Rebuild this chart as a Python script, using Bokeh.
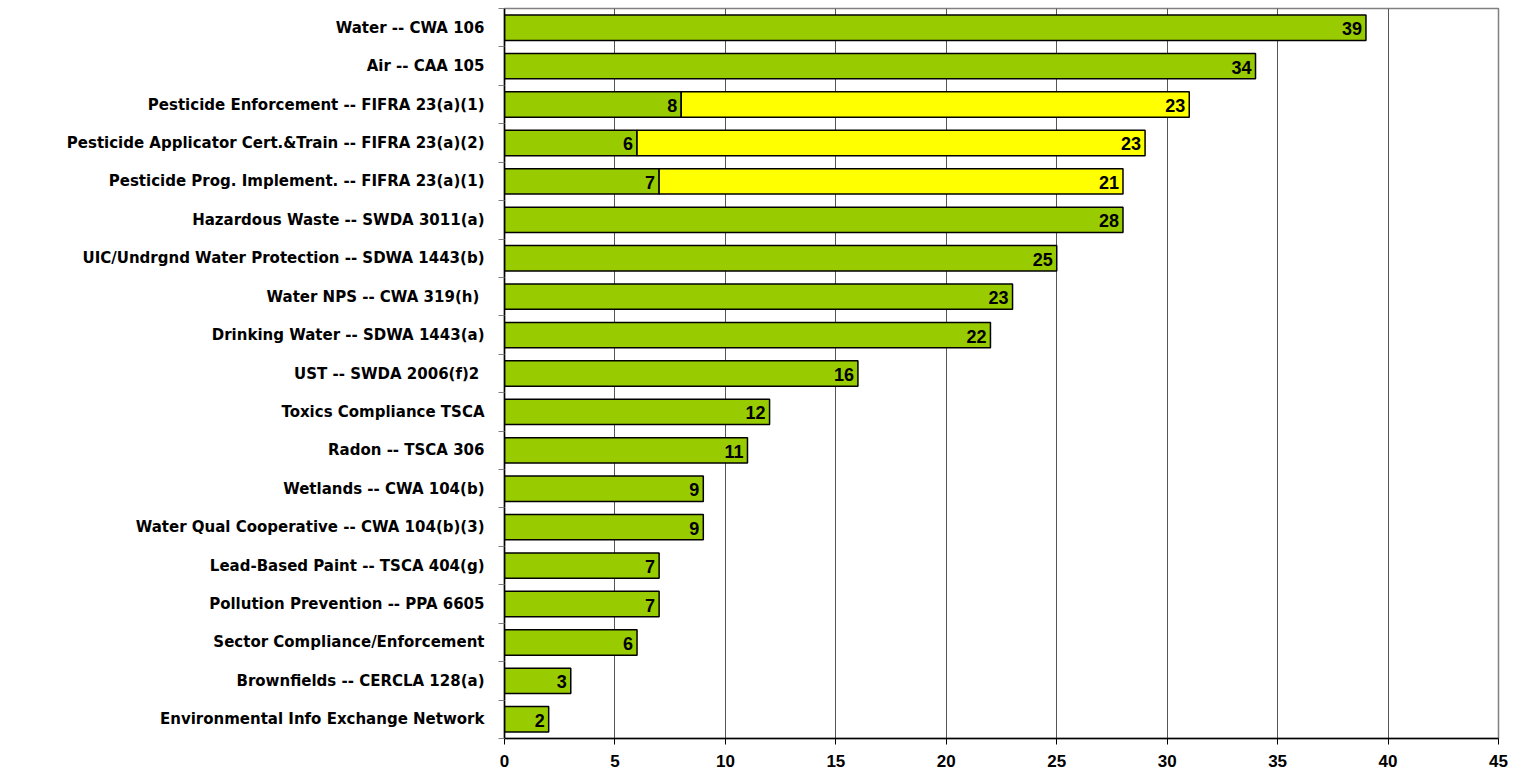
from bokeh.plotting import figure
from bokeh.models import ColumnDataSource, FixedTicker, Range1d
from bokeh.core.properties import value
from bokeh.embed import file_html
from bokeh.resources import INLINE

categories = [
    "Water -- CWA 106",
    "Air -- CAA 105",
    "Pesticide Enforcement -- FIFRA 23(a)(1)",
    "Pesticide Applicator Cert.&Train -- FIFRA 23(a)(2)",
    "Pesticide Prog. Implement. -- FIFRA 23(a)(1)",
    "Hazardous Waste -- SWDA 3011(a)",
    "UIC/Undrgnd Water Protection -- SDWA 1443(b)",
    "Water NPS  -- CWA 319(h)",
    "Drinking Water -- SDWA 1443(a)",
    "UST  -- SWDA 2006(f)2",
    "Toxics Compliance TSCA",
    "Radon -- TSCA 306",
    "Wetlands -- CWA 104(b)",
    "Water Qual Cooperative -- CWA 104(b)(3)",
    "Lead-Based Paint -- TSCA 404(g)",
    "Pollution Prevention -- PPA 6605",
    "Sector Compliance/Enforcement",
    "Brownfields -- CERCLA 128(a)",
    "Environmental Info Exchange Network",
]
green_values = [39, 34, 8, 6, 7, 28, 25, 23, 22, 16, 12, 11, 9, 9, 7, 7, 6, 3, 2]
yellow_values = [0, 0, 23, 23, 21, 0, 0, 0, 0, 0, 0, 0, 0, 0, 0, 0, 0, 0, 0]
x_ticks = [0, 5, 10, 15, 20, 25, 30, 35, 40, 45]

n = len(categories)
ypos = [n - 1 - i for i in range(n)]
totals = [g + y for g, y in zip(green_values, yellow_values)]

green_src = ColumnDataSource(dict(y=ypos, left=[0] * n, right=green_values,
                                  label=[str(v) for v in green_values]))
yi = [i for i in range(n) if yellow_values[i] > 0]
yellow_src = ColumnDataSource(dict(y=[ypos[i] for i in yi],
                                   left=[green_values[i] for i in yi],
                                   right=[totals[i] for i in yi],
                                   label=[str(yellow_values[i]) for i in yi]))

p = figure(width=1512, height=772, output_backend="svg", toolbar_location=None,
           x_range=Range1d(0, 45), y_range=Range1d(-0.5, n - 0.5),
           min_border_left=504, min_border_right=14, min_border_top=8,
           min_border_bottom=34)

p.hbar(y="y", left="left", right="right", height=0.66, source=green_src,
       fill_color="#99CC00", line_color="black", line_width=1.5)
p.hbar(y="y", left="left", right="right", height=0.66, source=yellow_src,
       fill_color="#FFFF00", line_color="black", line_width=1.5)

for src in (green_src, yellow_src):
    p.text(x="right", y="y", text="label", source=src, text_align="right",
           text_baseline="middle", x_offset=-4, y_offset=1,
           text_font=value("Liberation Sans"), text_font_style="bold",
           text_font_size="18px", text_color="black")

# axes
p.xaxis.ticker = FixedTicker(ticks=x_ticks)
p.xaxis.major_label_text_font = "Liberation Sans"
p.xaxis.major_label_text_font_style = "bold"
p.xaxis.major_label_text_font_size = "17px"
p.xaxis.major_label_text_color = "black"
p.xaxis.axis_line_color = "black"
p.xaxis.axis_line_width = 1.5
p.xaxis.major_tick_line_color = "black"
p.xaxis.major_tick_out = 6
p.xaxis.major_tick_in = 0
p.xaxis.minor_tick_line_color = None
p.xaxis.major_label_standoff = 10

p.yaxis.ticker = FixedTicker(ticks=ypos, minor_ticks=[k - 0.5 for k in range(n + 1)])
p.yaxis.major_label_overrides = {ypos[i]: categories[i] for i in range(n)}
p.yaxis.major_label_text_font = "DejaVu Sans"
p.yaxis.major_label_text_font_style = "bold"
p.yaxis.major_label_text_font_size = "15px"
p.yaxis.major_label_text_color = "black"
p.yaxis.major_tick_line_color = None
p.yaxis.major_tick_out = 0
p.yaxis.major_tick_in = 0
p.yaxis.minor_tick_line_color = "#808080"
p.yaxis.minor_tick_out = 6
p.yaxis.minor_tick_in = 0
p.yaxis.axis_line_color = "black"
p.yaxis.axis_line_width = 1.5
p.yaxis.major_label_standoff = 14

p.xgrid.ticker = FixedTicker(ticks=x_ticks)
p.xgrid.grid_line_color = "#555555"
p.xgrid.grid_line_width = 1
p.ygrid.grid_line_color = None
p.outline_line_color = "#808080"
p.outline_line_width = 1.5
p.background_fill_color = "white"
p.border_fill_color = "white"

open("out.html", "w").write(file_html(p, INLINE))
